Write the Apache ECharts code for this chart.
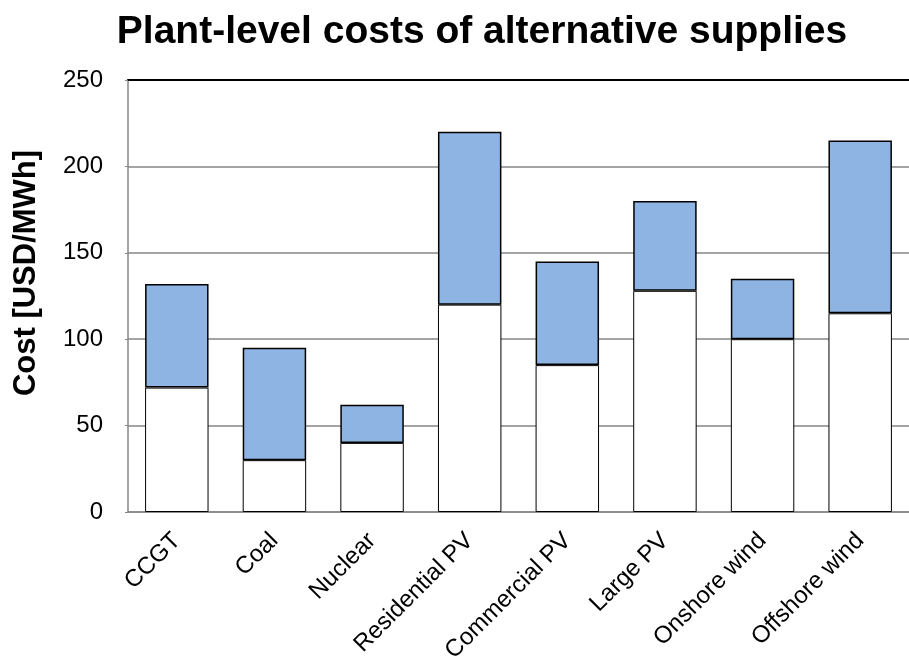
<!DOCTYPE html>
<html>
<head>
<meta charset="utf-8">
<title>Plant-level costs of alternative supplies</title>
<script src="https://cdn.jsdelivr.net/npm/echarts@6/dist/echarts.min.js"></script>
<style>
  html, body { margin: 0; padding: 0; background: #fff; }
  #chart { width: 909px; height: 670px; }
</style>
</head>
<body>
<div id="chart"></div>
<script>
// categories and values (USD/MWh)
const categories = ["CCGT", "Coal", "Nuclear", "Residential PV", "Commercial PV", "Large PV", "Onshore wind", "Offshore wind"];
const lowCost = [72, 30, 40, 120, 85, 128, 100, 115];
const highCost = [132, 95, 62, 220, 145, 180, 135, 215];
// the blue part is the spread between low and high
const spread = highCost.map((v, i) => v - lowCost[i]);
const yTicks = [0, 50, 100, 150, 200, 250];

const font = "Liberation Sans, Arial, sans-serif";
const chart = echarts.init(document.getElementById("chart"));

chart.setOption({
  animation: false,
  title: {
    text: "Plant-level costs of alternative supplies",
    left: 477,
    textAlign: "center",
    top: 8,
    textStyle: { fontFamily: font, fontSize: 39, fontWeight: "bold", color: "#000" },
  },
  grid: { left: 128, top: 80, width: 785, height: 432 },
  xAxis: [
    {
      type: "category",
      data: categories,
      axisLine: { lineStyle: { color: "#868686", width: 1.5 } },
      axisTick: { show: false },
      axisLabel: {
        rotate: 45,
        interval: 0,
        margin: 25,
        color: "#000",
        fontFamily: font,
        fontSize: 24,
      },
    },
    {
      // black frame line along the top of the plot
      type: "category",
      position: "top",
      data: categories,
      axisLine: { lineStyle: { color: "#000", width: 2 } },
      axisTick: { show: false },
      axisLabel: { show: false },
    },
  ],
  yAxis: {
    type: "value",
    min: yTicks[0],
    max: yTicks[yTicks.length - 1],
    interval: 50,
    name: "Cost [USD/MWh]",
    nameLocation: "middle",
    nameGap: 86,
    nameRotate: 90,
    nameTextStyle: {
      fontFamily: font,
      fontSize: 31,
      fontWeight: "bold",
      color: "#000",
      padding: [0, 0, 0, 46],
    },
    axisLine: { show: true, lineStyle: { color: "#868686", width: 1.5 } },
    axisTick: { show: true, length: 3, lineStyle: { color: "#868686" } },
    splitLine: { lineStyle: { color: "#868686", width: 1.5 } },
    axisLabel: { color: "#000", fontFamily: font, fontSize: 24, margin: 25 },
  },
  series: [
    {
      name: "Low",
      type: "bar",
      stack: "cost",
      barWidth: "65%",
      data: lowCost,
      itemStyle: { color: "#fff", borderColor: "#000", borderWidth: 1 },
    },
    {
      name: "Spread",
      type: "bar",
      stack: "cost",
      data: spread,
      itemStyle: { color: "#8EB4E3", borderColor: "#000", borderWidth: 1.5 },
    },
  ],
});
</script>
</body>
</html>
